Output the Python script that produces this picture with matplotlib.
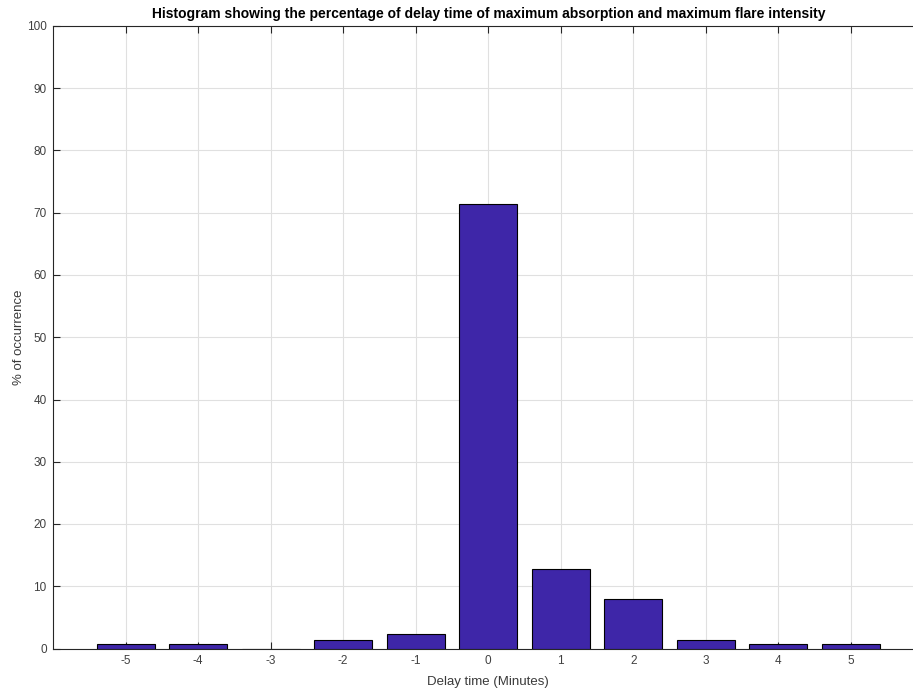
import matplotlib
matplotlib.use("Agg")
import matplotlib.pyplot as plt

# Delay between maximum absorption and maximum flare intensity (minutes)
delay_minutes = [-5, -4, -3, -2, -1, 0, 1, 2, 3, 4, 5]
occurrence_pct = [0.8, 0.8, 0.0, 1.4, 2.4, 71.4, 12.7, 7.9, 1.3, 0.7, 0.7]
y_ticks = list(range(0, 101, 10))

plt.rcParams['font.family'] = ['Liberation Sans', 'DejaVu Sans']
plt.rcParams['axes.unicode_minus'] = False

W, H = 913, 692
fig = plt.figure(figsize=(W / 100, H / 100), dpi=100)
left, right, top, bottom = 53, 923.5, 26, 648.5
ax = fig.add_axes([left / W, 1 - bottom / H, (right - left) / W, (bottom - top) / H])

ax.bar(delay_minutes, occurrence_pct, width=0.8, color='#3E26A8',
       edgecolor='black', linewidth=0.8, zorder=3)

ax.set_xlim(-6, 6)
ax.set_ylim(0, 100)
ax.set_xticks(delay_minutes)
ax.set_yticks(y_ticks)

axis_col = '#262626'
ax.grid(True, color='#e0e0e0', linewidth=0.8, zorder=0)
ax.set_axisbelow(True)
for sp in ax.spines.values():
    sp.set_color(axis_col)
    sp.set_linewidth(0.8)
ax.tick_params(direction='in', length=5, width=0.8, color=axis_col,
               labelcolor='#404040', labelsize=8.5, top=True, right=True, pad=4.5)

ax.set_xlabel('Delay time (Minutes)', fontsize=9.5, color='#3a3a3a', labelpad=6.5)
ax.set_ylabel('% of occurrence', fontsize=9.5, color='#3a3a3a', labelpad=1.5)
ax.set_title('Histogram showing the percentage of delay time of maximum absorption and maximum flare intensity',
             fontsize=10, fontweight='bold', color='black', pad=6)

fig.savefig('out.png', dpi=100)
